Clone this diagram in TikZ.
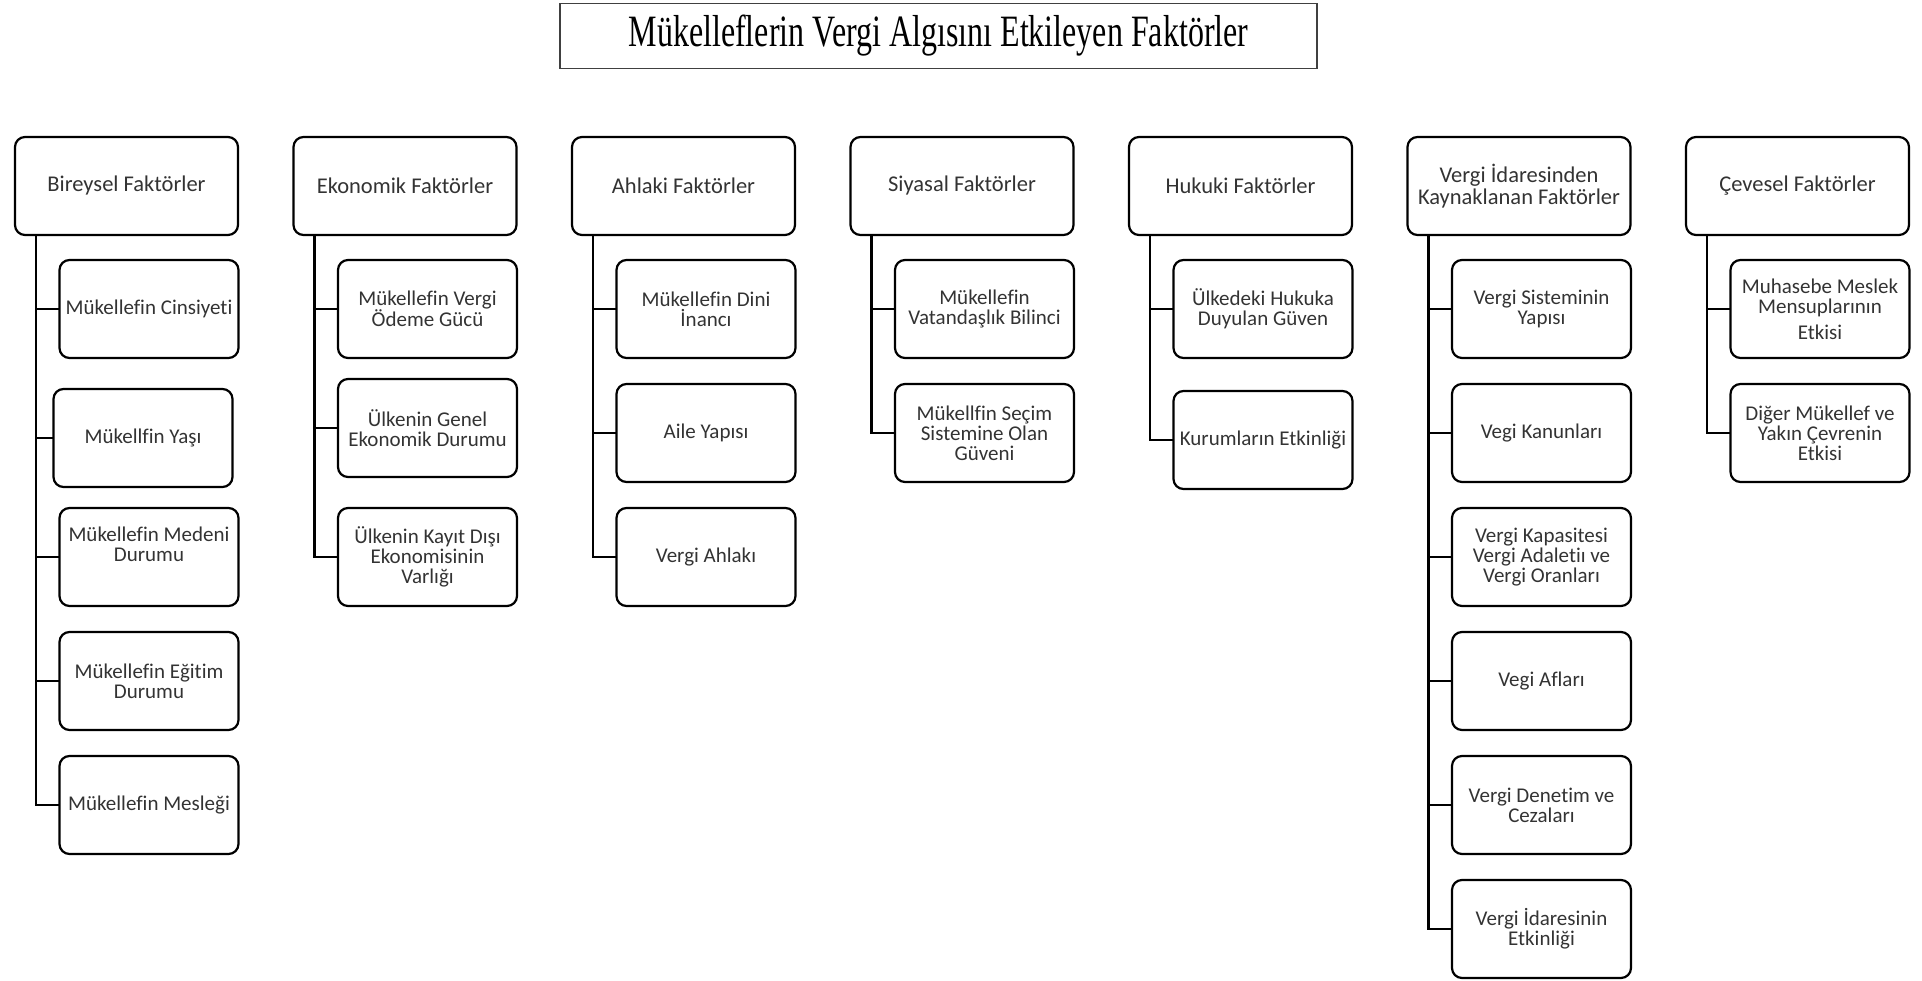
\documentclass[tikz,border=0pt]{standalone}
\usepackage{fontspec}
\setmainfont{Carlito}[RawFeature={-liga;-dlig}]
\newfontfamily\titlefont{Liberation Serif}
\usepackage{graphicx}
\begin{document}
\begin{tikzpicture}[x=1pt,y=-1pt,
  box/.style={draw=black, line width=2.2pt, rounded corners=10pt, align=center,
    text=black!80, inner sep=0pt, minimum height=98pt},
  head/.style={box, minimum width=223pt, font=\fontsize{22.5}{22}\selectfont},
  leaf/.style={box, minimum width=179pt, font=\fontsize{21}{20}\selectfont},
  conn/.style={line width=2.2pt, line cap=rect},
  titlebox/.style={draw=black!75, line width=1.3pt, minimum width=757pt, minimum height=65pt, inner sep=0pt}]
\useasboundingbox (0,0) rectangle (1922,981);

\node[titlebox] (title) at (938.5,36)
  {\titlefont\fontsize{32}{32}\selectfont\scalebox{1}[1.4]{Mükelleflerin Vergi Algısını Etkileyen Faktörler}};

% column 1
\node[head] (pA) at (126.5,186) {Bireysel Faktörler};
\node[leaf] (a1) at (149,309) {Mükellefin Cinsiyeti};
\node[leaf] (a2) at (143,438) {Mükellfin Yaşı};
\node[leaf] (a3) at (149,557) {Mükellefin Medeni\\Durumu\\[6pt]\mbox{}};
\node[leaf] (a4) at (149,681) {Mükellefin Eğitim\\Durumu};
\node[leaf] (a5) at (149,805) {Mükellefin Mesleği};

% column 2
\node[head] (pB) at (405,186) {Ekonomik Faktörler};
\node[leaf] (b1) at (427.5,309) {Mükellefin Vergi\\Ödeme Gücü};
\node[leaf] (b2) at (427.5,428) {Ülkenin Genel\\Ekonomik Durumu};
\node[leaf] (b3) at (427.5,557) {Ülkenin Kayıt Dışı\\Ekonomisinin\\Varlığı};

% column 3
\node[head] (pC) at (683.5,186) {Ahlaki Faktörler};
\node[leaf] (c1) at (706,309) {Mükellefin Dini\\İnancı};
\node[leaf] (c2) at (706,433) {Aile Yapısı};
\node[leaf] (c3) at (706,557) {Vergi Ahlakı};

% column 4
\node[head] (pD) at (962,186) {Siyasal Faktörler};
\node[leaf] (d1) at (984.5,309) {Mükellefin\\Vatandaşlık Bilinci};
\node[leaf] (d2) at (984.5,433) {Mükellfin Seçim\\Sistemine Olan\\Güveni};

% column 5
\node[head] (pE) at (1240.5,186) {Hukuki Faktörler};
\node[leaf] (e1) at (1263,309) {Ülkedeki Hukuka\\Duyulan Güven};
\node[leaf] (e2) at (1263,440) {Kurumların Etkinliği};

% column 6
\node[head] (pF) at (1519,186) {Vergi İdaresinden\\Kaynaklanan Faktörler};
\node[leaf] (f1) at (1541.5,309) {Vergi Sisteminin\\Yapısı};
\node[leaf] (f2) at (1541.5,433) {Vegi Kanunları};
\node[leaf] (f3) at (1541.5,557) {Vergi Kapasitesi\\Vergi Adaletiı ve\\Vergi Oranları};
\node[leaf] (f4) at (1541.5,681) {Vegi Afları};
\node[leaf] (f5) at (1541.5,805) {Vergi Denetim ve\\Cezaları};
\node[leaf] (f6) at (1541.5,929) {Vergi İdaresinin\\Etkinliği};

% column 7
\node[head] (pG) at (1797.5,186) {Çevesel Faktörler};
\node[leaf] (g1) at (1820,309) {Muhasebe Meslek\\Mensuplarının\\[6pt]Etkisi};
\node[leaf] (g2) at (1820,433) {Diğer Mükellef ve\\Yakın Çevrenin\\Etkisi};

% connectors
\foreach \c in {a1,a2,a3,a4,a5} \draw[conn] ([xshift=22pt]pA.south west) |- (\c.west);
\foreach \c in {b1,b2,b3} \draw[conn] ([xshift=22pt]pB.south west) |- (\c.west);
\foreach \c in {c1,c2,c3} \draw[conn] ([xshift=22pt]pC.south west) |- (\c.west);
\foreach \c in {d1,d2} \draw[conn] ([xshift=22pt]pD.south west) |- (\c.west);
\foreach \c in {e1,e2} \draw[conn] ([xshift=22pt]pE.south west) |- (\c.west);
\foreach \c in {f1,f2,f3,f4,f5,f6} \draw[conn] ([xshift=22pt]pF.south west) |- (\c.west);
\foreach \c in {g1,g2} \draw[conn] ([xshift=22pt]pG.south west) |- (\c.west);
\end{tikzpicture}
\end{document}
